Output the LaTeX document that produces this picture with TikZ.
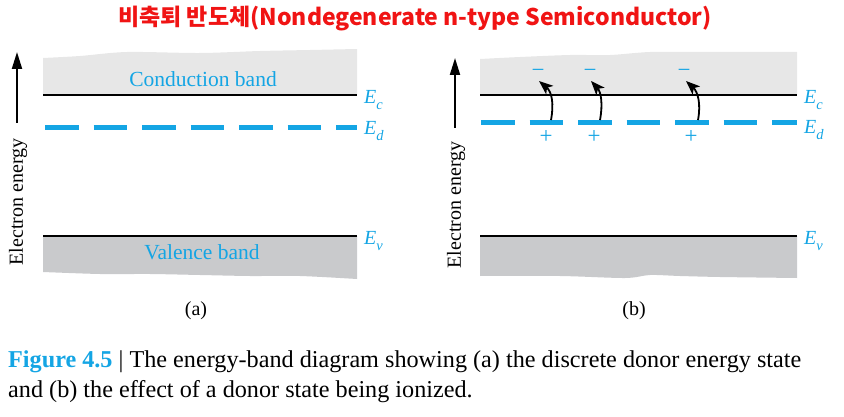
\documentclass[tikz,border=0pt]{standalone}
\usepackage{fontspec}
\setmainfont{Liberation Serif}
\newfontfamily\krfont{Noto Sans CJK KR}
\usetikzlibrary{arrows.meta}
\definecolor{eblue}{RGB}{20,165,228}
\definecolor{tred}{RGB}{240,20,20}
\definecolor{cband}{RGB}{231,231,231}
\definecolor{vband}{RGB}{201,202,204}
\tikzset{
  bandline/.style={line width=2pt,black},
  donorline/.style={line width=5pt,eblue,dash pattern=on 33.5pt off 15pt},
  elabel/.style={anchor=base west,inner sep=0pt,font=\rmfamily\fontsize{20}{20}\selectfont\itshape,text=eblue},
  bandtext/.style={font=\rmfamily\fontsize{21.5}{21.5}\selectfont,text=eblue,inner sep=0pt},
  axisarrow/.style={line width=2pt,-{Triangle[length=17pt,width=10pt]}},
  axistext/.style={rotate=90,font=\rmfamily\fontsize{20}{20}\selectfont,inner sep=0pt},
  jump/.style={line width=1.8pt,-{Stealth[length=14pt,width=11pt,inset=3.5pt]}},
  chg/.style={font=\rmfamily\fontsize{23}{23}\selectfont,text=eblue,inner sep=0pt},
  sublabel/.style={font=\rmfamily\fontsize{20}{20}\selectfont,inner sep=0pt},
  captext/.style={anchor=base west,inner sep=0pt,font=\rmfamily\fontsize{24.2}{24.2}\selectfont},
}
\newcommand{\Elab}[1]{E\raisebox{-0.3em}{\fontsize{14.5}{14.5}\selectfont #1}}
\begin{document}
\begin{tikzpicture}[x=1pt,y=-1pt]
\useasboundingbox (0,0) rectangle (844,417);
% title
\node[font=\krfont\bfseries\fontsize{23}{23}\selectfont,text=tred,inner sep=0pt] (title) at (415,19) {비축퇴 반도체(Nondegenerate n-type Semiconductor)};

% ---------- panel (a) ----------
\fill[cband] (43,95) -- plot[smooth] coordinates {(43,58) (80,56) (127,52) (200,53) (260,51) (310,50) (357,49)} -- (357,95) -- cycle;
\fill[vband] (43,236) -- (357,236) -- plot[smooth] coordinates {(357,279) (300,276) (250,276) (200,275) (150,274) (100,274) (43,272)} -- cycle;
\coordinate (aEc1) at (43,95); \coordinate (aEc2) at (357,95);
\coordinate (aEd1) at (45,128); \coordinate (aEd2) at (357,128);
\coordinate (aEv1) at (43,236); \coordinate (aEv2) at (357,236);
\draw[bandline] (aEc1) -- (aEc2);
\draw[bandline] (aEv1) -- (aEv2);
\draw[donorline] (aEd1) -- (aEd2);
\node[elabel] (aEc) at (364,104) {\Elab{c}};
\node[elabel] (aEd) at (364,135) {\Elab{d}};
\node[elabel] (aEv) at (364,244) {\Elab{v}};
\node[bandtext] (acb) at (203,79) {Conduction band};
\node[bandtext] (avb) at (202,252) {Valence band};
\coordinate (aAx1) at (17,123); \coordinate (aAx2) at (17,52);
\draw[axisarrow] (aAx1) -- (aAx2);
\node[axistext] (aAxt) at (18,202) {Electron energy};
\node[sublabel] (la) at (196,311) {(a)};

% ---------- panel (b) ----------
\fill[cband] (480,95) -- plot[smooth] coordinates {(480,59) (520,57) (570,55) (610,55) (650,52) (700,52) (797,52)} -- (797,95) -- cycle;
\fill[vband] (480,236) -- (797,236) -- plot[smooth] coordinates {(797,278) (720,277) (680,276) (650,275) (625,278) (560,276) (480,276)} -- cycle;
\coordinate (bEc1) at (480,95); \coordinate (bEc2) at (797,95);
\coordinate (bEd1) at (481,123); \coordinate (bEd2) at (797,123);
\coordinate (bEv1) at (480,236); \coordinate (bEv2) at (797,236);
\draw[bandline] (bEc1) -- (bEc2);
\draw[bandline] (bEv1) -- (bEv2);
\draw[donorline] (bEd1) -- (bEd2);
\node[elabel] (bEc) at (804,104) {\Elab{c}};
\node[elabel] (bEd) at (804,134) {\Elab{d}};
\node[elabel] (bEv) at (804,244) {\Elab{v}};
\coordinate (bAx1) at (455,128); \coordinate (bAx2) at (455,58);
\draw[axisarrow] (bAx1) -- (bAx2);
\node[axistext] (bAxt) at (456,205) {Electron energy};
\node[sublabel] (lb) at (634,311) {(b)};
% electrons and ions
\node[chg] (m1) at (538,73) {−};
\node[chg] (m2) at (590,73) {−};
\node[chg] (m3) at (684,73) {−};
\node[chg] (p1) at (546,137) {+};
\node[chg] (p2) at (594,137) {+};
\node[chg] (p3) at (691,137) {+};
\coordinate (s1) at (551,120); \coordinate (t1) at (539,81);
\coordinate (s2) at (600,120); \coordinate (t2) at (591,81);
\coordinate (s3) at (698,120); \coordinate (t3) at (686,81);
\draw[jump] (s1) .. controls (554,104) and (552,92) .. (t1);
\draw[jump] (s2) .. controls (603,104) and (601,92) .. (t2);
\draw[jump] (s3) .. controls (701,104) and (698,92) .. (t3);

% caption
\node[captext] (cap1) at (8,367) {{\color{eblue}\bfseries Figure 4.5} | The energy-band diagram showing (a) the discrete donor energy state};
\node[captext] (cap2) at (8,397) {and (b) the effect of a donor state being ionized.};
\end{tikzpicture}
\end{document}
